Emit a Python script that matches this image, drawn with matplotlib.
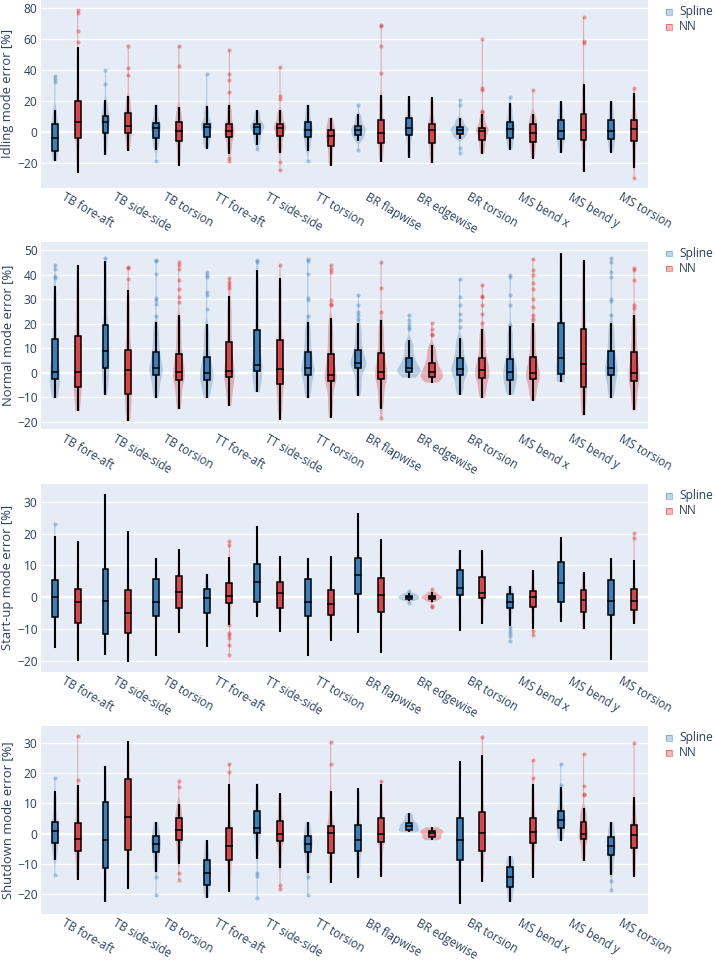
import math
import numpy as np
import matplotlib
matplotlib.use("Agg")
import matplotlib.pyplot as plt
from matplotlib.patches import Rectangle

# ---------------- data ----------------
categories = ["TB fore-aft", "TB side-side", "TB torsion", "TT fore-aft", "TT side-side",
              "TT torsion", "BR flapwise", "BR edgewise", "BR torsion", "MS bend x",
              "MS bend y", "MS torsion"]
series_names = ["Spline", "NN"]
y_titles = ["Idling mode error [%]", "Normal mode error [%]",
            "Start-up mode error [%]", "Shutdown mode error [%]"]
y_ticks = [[-20, 0, 20, 40, 60, 80], [-20, -10, 0, 10, 20, 30, 40, 50],
           [-20, -10, 0, 10, 20, 30], [-20, -10, 0, 10, 20, 30]]
y_ranges = [(-36, 85.4), (-23, 53.5), (-23.4, 35.6), (-26.5, 35.7)]

# each entry: [lower whisker, q1, median, q3, upper whisker]
idling_spline = [[-18.8, -12.6, -3.9, 4.8, 14.0], [-14.9, -0.6, 6.7, 10.6, 20.6],
                 [-11.9, -3.7, 2.6, 5.8, 17.7], [-10.8, -3.0, 3.2, 5.4, 16.5],
                 [-8.7, -1.3, 3.2, 5.0, 14.1], [-12.3, -3.5, 1.1, 6.1, 17.7],
                 [-6.1, -1.7, 1.1, 3.9, 11.3], [-16.7, -1.7, 2.8, 8.7, 23.0],
                 [-4.5, -1.1, 1.3, 3.2, 8.7], [-11.5, -3.7, 1.9, 6.1, 18.4],
                 [-13.4, -4.3, 0.4, 7.4, 19.7], [-13.4, -4.3, 0.4, 7.4, 19.7]]
idling_spline_out = [[32.5, 34.5, 36.5], [30.7, 39.8], [-18.8], [37.2], [-11.3], [-19.0],
                     [17.3, -11.5], [], [20.6, 17.7, -10.4, -13.4], [22.5], [], []]
idling_nn = [[-26.4, -4.1, 6.1, 19.7, 54.8], [-12.3, -0.4, 4.1, 12.3, 23.0],
             [-22.3, -5.6, 0.4, 6.5, 16.0], [-14.3, -3.5, 0.4, 5.4, 17.1],
             [-13.6, -2.4, 2.4, 5.0, 14.1], [-22.1, -8.9, -2.4, 1.5, 9.3],
             [-19.5, -6.9, -0.6, 7.6, 24.2], [-20.1, -6.9, 1.3, 5.4, 22.3],
             [-14.5, -5.2, 0.6, 2.4, 11.3], [-17.3, -6.3, -0.4, 4.8, 11.9],
             [-26.0, -5.0, 1.5, 11.9, 30.7], [-23.2, -5.6, 2.2, 8.0, 25.1]]
idling_nn_out = [[58.2, 65.6, 76.8, 79.0], [37.0, 41.1, 55.6], [42.6, 55.6],
                 [26.0, 33.5, 37.4, 52.8, -17.1, -19.0], [21.6, 23.2, 42.2, -19.5, -24.9], [],
                 [38.3, 55.6, 68.6, 69.3], [], [12.8, 13.4, 27.0, 28.6, 60.0], [27.0],
                 [57.4, 58.9, 74.2], [28.1, -29.9]]

normal_spline = [[-10.4, -2.5, 0.4, 13.8, 35.3], [-9.0, 2.0, 9.0, 19.6, 45.6],
                 [-10.4, -0.8, 2.0, 8.6, 20.6], [-10.4, -2.9, 0.1, 6.5, 19.8],
                 [-7.9, 0.8, 3.0, 17.4, 42.1], [-10.4, -0.8, 2.0, 8.6, 20.6],
                 [-9.5, 2.0, 4.2, 9.4, 20.4], [-2.0, 0.5, 2.0, 6.1, 13.5],
                 [-9.0, -0.8, 1.6, 6.1, 14.4], [-9.0, -2.9, 0.5, 5.7, 19.1],
                 [-3.8, -0.4, 6.1, 20.4, 49.0], [-10.4, -1.0, 2.0, 9.0, 20.4]]
normal_spline_out = [[38.7, 39.5, 42.5, 44.1], [47.0], [23.3, 28.2, 29.6, 30.5, 40.2, 45.5, 45.9],
                     [25.9, 31.9, 33.0, 39.1, 39.8, 41.1], [45.2, 45.9],
                     [23.2, 29.6, 30.7, 40.5, 45.6, 46.3], [22.0, 23.4, 25.0, 27.5, 31.9],
                     [18.0, 18.7, 20.0, 21.4, 23.7], [18.7, 21.4, 24.1, 27.5, 30.9, 38.1],
                     [19.6, 27.5, 31.9, 39.1, 40.0], [],
                     [23.7, 29.2, 30.2, 39.1, 41.1, 45.2, 46.9]]
normal_nn = [[-15.7, -5.7, 0.4, 15.1, 44.1], [-19.6, -8.6, 1.2, 9.4, 33.7],
             [-14.9, -2.9, 0.5, 7.8, 23.4], [-13.6, -1.8, 0.8, 12.5, 31.5],
             [-19.2, -4.4, 1.4, 13.4, 38.8], [-18.5, -3.3, -0.7, 7.8, 22.2],
             [-14.7, -2.5, 0.5, 8.2, 21.7], [-4.0, -1.5, 0.3, 4.1, 11.2],
             [-10.4, -2.2, 1.0, 6.1, 17.7], [-11.4, -2.5, 0.1, 6.5, 20.3],
             [-17.4, -5.9, 3.8, 18.0, 45.9], [-15.3, -3.3, 0.1, 8.6, 23.4]]
normal_nn_out = [[], [38.4, 42.8, 43.3], [28.9, 30.9, 34.1, 37.7, 42.5, 43.9, 45.2],
                 [34.7, 35.7, 37.0, 38.6], [44.0], [27.5, 27.9, 29.6, 41.1, 42.2, 43.9],
                 [24.8, 34.7, 45.2, -18.3], [15.3, 16.0, 18.0, 20.4],
                 [20.4, 24.1, 27.5, 30.9, 31.3, 36.0],
                 [22.0, 23.7, 26.8, 30.2, 34.3, 36.6, 39.8, 41.8, 46.6], [],
                 [26.4, 27.5, 38.0, 41.8, 42.9]]

startup_spline = [[-16.1, -6.4, 0.0, 5.3, 19.2], [-18.1, -11.7, -1.3, 8.8, 32.4],
                  [-18.4, -6.0, -1.6, 5.6, 12.2], [-15.6, -5.0, -0.3, 2.5, 7.3],
                  [-6.4, -1.6, 4.7, 10.4, 22.4], [-18.6, -6.0, -1.6, 5.6, 12.2],
                  [-11.3, 1.0, 7.0, 12.2, 26.4], [-1.2, -0.5, 0.0, 0.5, 1.3],
                  [-10.5, 0.6, 2.8, 8.5, 14.7], [-9.0, -3.5, -1.6, 0.9, 3.6],
                  [-7.9, -1.6, 4.4, 11.0, 18.9], [-19.9, -5.6, -1.3, 5.3, 12.2]]
startup_spline_out = [[23.0], [], [], [], [], [], [], [1.9, -2.0], [],
                      [-9.4, -10.3, -11.3, -12.3, -13.7], [], []]
startup_nn = [[-20.2, -8.2, -1.6, 2.5, 17.6], [-20.4, -11.3, -5.0, 2.2, 20.8],
              [-11.4, -3.5, 1.6, 6.7, 15.2], [-8.7, -1.9, 0.3, 4.4, 12.7],
              [-11.0, -3.5, 1.3, 4.9, 13.0], [-13.7, -5.6, -2.2, 2.2, 13.0],
              [-17.7, -4.7, 0.7, 6.0, 18.3], [-1.4, -0.5, 0.0, 0.5, 1.6],
              [-8.3, -0.3, 1.4, 6.3, 14.7], [-9.9, -3.1, 0.0, 1.9, 8.5],
              [-10.1, -4.7, -1.0, 2.2, 7.8], [-8.3, -3.9, -1.3, 2.5, 11.6]]
startup_nn_out = [[], [], [], [16.4, 17.6, -8.9, -11.3, -11.8, -12.9, -15.0, -18.1], [], [],
                  [], [2.5, -2.7, -3.2], [], [-10.6, -12.0], [], [18.5, 20.1]]

shutdown_spline = [[-8.6, -3.1, 0.9, 3.9, 14.1], [-22.7, -11.3, -2.0, 10.5, 22.5],
                   [-12.7, -6.1, -3.3, -0.8, 3.9], [-21.3, -17.0, -13.0, -8.9, -2.1],
                   [-8.5, 0.3, 1.9, 7.5, 16.6], [-12.9, -6.1, -3.3, -0.8, 3.9],
                   [-14.6, -5.7, -2.2, 3.0, 15.2], [0.4, 1.1, 2.4, 3.5, 6.8],
                   [-23.2, -8.9, -2.1, 5.2, 24.1], [-22.6, -17.6, -14.3, -11.0, -7.5],
                   [-2.5, 1.9, 4.6, 7.5, 15.3], [-13.8, -7.2, -4.0, -1.1, 3.9]]
shutdown_spline_out = [[18.4, -13.7], [], [-14.3, -20.3], [], [-13.0, -13.9, -21.3],
                       [-14.4, -20.4], [], [], [], [], [16.2, 23.2], [-15.7, -18.7]]
shutdown_nn = [[-15.4, -5.7, -1.8, 3.5, 16.2], [-18.3, -5.5, 5.5, 18.1, 30.7],
               [-10.0, -2.1, 1.2, 5.1, 9.9], [-19.3, -8.7, -4.1, 1.8, 16.4],
               [-11.5, -2.6, 0.0, 4.2, 13.4], [-16.3, -6.3, 0.2, 2.5, 14.1],
               [-14.4, -2.8, 0.0, 5.2, 16.5], [-2.2, -1.2, 0.2, 0.9, 2.1],
               [-16.0, -5.9, 0.2, 7.2, 26.1], [-14.6, -3.1, 0.6, 5.2, 16.5],
               [-9.1, -1.8, 0.0, 3.9, 8.5], [-14.4, -4.7, -0.3, 2.9, 12.2]]
shutdown_nn_out = [[17.7, 32.4], [], [15.6, 17.4, -12.9, -15.3], [20.4, 23.2], [-16.9, -18.4],
                   [23.2, 30.5], [17.3], [], [32.2], [18.6, 24.4], [12.9, 13.1, 15.9, 26.3],
                   [30.2]]

panels = [
    ((idling_spline, idling_spline_out), (idling_nn, idling_nn_out)),
    ((normal_spline, normal_spline_out), (normal_nn, normal_nn_out)),
    ((startup_spline, startup_spline_out), (startup_nn, startup_nn_out)),
    ((shutdown_spline, shutdown_spline_out), (shutdown_nn, shutdown_nn_out)),
]

# ---------------- style ----------------
FONT = ["Open Sans", "DejaVu Sans"]
plt.rcParams["font.family"] = FONT
TXT = "#2a3f5f"
BG = "#E5ECF6"
base_cols = ["#377eb8", "#e41a1c"]
box_cols = ["#3b80bc", "#d8464a"]
offsets = [-0.225, 0.225]
box_hw = 0.058
max_hw = [0.18, 0.23, 0.21, 0.23]
W, H = 715, 961
PX = 0.72  # pt per px at dpi 100

_erf = np.vectorize(math.erf)


def density(stats, outl):
    lo, q1, md, q3, hi = stats
    vals = [lo, hi] + list(outl)
    vmin, vmax = min(vals), max(vals)
    iqr = max(q3 - q1, 1e-3)
    s = max(0.28 * iqr, 0.02 * (hi - lo))
    y = np.linspace(vmin, vmax, 400)
    d = np.zeros_like(y)
    for a, b in [(lo, q1), (q1, md), (md, q3), (q3, hi)]:
        if b - a < 1e-6:
            d += 0.25 * np.exp(-0.5 * ((y - a) / s) ** 2) / (s * math.sqrt(2 * math.pi))
        else:
            d += 0.25 / (b - a) * 0.5 * (_erf((y - a) / (s * math.sqrt(2))) -
                                         _erf((y - b) / (s * math.sqrt(2))))
    so = s * 0.35
    for o in outl:
        d += 0.004 * np.exp(-0.5 * ((y - o) / so) ** 2) / (so * math.sqrt(2 * math.pi))
    return y, d ** 0.8


fig = plt.figure(figsize=(W / 100, H / 100), dpi=100)
fig.patch.set_facecolor("white")

tops = [0, 241.7, 484, 726]
ph = 187.5
left_px, width_px = 41, 607

for p, (top, series) in enumerate(zip(tops, panels)):
    ax = fig.add_axes([left_px / W, 1 - (top + ph) / H, width_px / W, ph / H])
    ax.set_facecolor(BG)
    for sp in ax.spines.values():
        sp.set_visible(False)
    ax.set_xlim(-0.5, len(categories) - 0.5)
    ax.set_ylim(*y_ranges[p])
    ax.set_yticks(y_ticks[p])
    ax.grid(axis="y", color="white", lw=1.0)
    ax.set_axisbelow(True)
    ax.axhline(0, color="white", lw=1.6, zorder=0.5)

    dens = []
    for (stats_list, out_list) in series:
        dens.append([density(st, ol) for st, ol in zip(stats_list, out_list)])
    peak = max(d.max() for ser in dens for (_, d) in ser)
    scale = max_hw[p] / peak
    min_hw = 0.6 / 50.6

    for k, (stats_list, out_list) in enumerate(series):
        for i, (st, ol) in enumerate(zip(stats_list, out_list)):
            xc = i + offsets[k]
            yy, dd = dens[k][i]
            hw = np.maximum(dd * scale, min_hw)
            ax.fill_betweenx(yy, xc - hw, xc + hw, facecolor=base_cols[k], alpha=0.3,
                             edgecolor="none", lw=0, zorder=1)
            if ol:
                ax.plot([xc] * len(ol), ol, "o", ms=3.0, color=base_cols[k], alpha=0.38,
                        mec="none", zorder=1.5)
            lo, q1, md, q3, hi = st
            ax.plot([xc, xc], [lo, hi], color="black", lw=1.5, zorder=2,
                    solid_capstyle="butt")
            ax.add_patch(Rectangle((xc - box_hw, q1), 2 * box_hw, q3 - q1,
                                   facecolor=box_cols[k], edgecolor="black", lw=1.1,
                                   zorder=3))
            ax.plot([xc - box_hw, xc + box_hw], [md, md], color="black", lw=1.1, zorder=4)

    ax.set_xticks(range(len(categories)))
    ax.set_xticklabels(categories, rotation=-30, ha="left", va="top",
                       rotation_mode="anchor", fontsize=11.6 * PX, color=TXT)
    ax.tick_params(axis="x", length=0, pad=2.0)
    ax.tick_params(axis="y", length=0, pad=2.5, labelsize=12 * PX, labelcolor=TXT)
    ax.set_ylabel(y_titles[p], fontsize=13 * PX, color=TXT)
    ax.yaxis.set_label_coords(-(41 - 14) / width_px, 0.5)

    # legend
    for k, name in enumerate(series_names):
        cy = top + 12 + 15 * k
        sq = 5.5
        fig.add_artist(Rectangle(((669 - sq / 2) / W, 1 - (cy + sq / 2) / H), sq / W, sq / H,
                                 transform=fig.transFigure, facecolor=base_cols[k],
                                 alpha=0.3, edgecolor="none"))
        fig.add_artist(Rectangle(((669 - sq / 2) / W, 1 - (cy + sq / 2) / H), sq / W, sq / H,
                                 transform=fig.transFigure, facecolor="none",
                                 edgecolor=base_cols[k], alpha=0.45, lw=0.8))
        fig.text(679 / W, 1 - cy / H, name, fontsize=12 * PX, color=TXT,
                 ha="left", va="center")

fig.savefig("out.png", dpi=100, facecolor="white")
